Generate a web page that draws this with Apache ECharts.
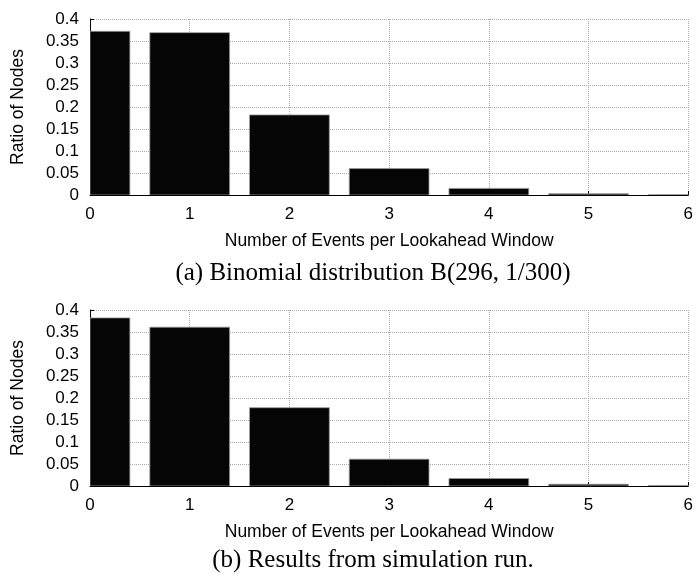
<!DOCTYPE html>
<html><head><meta charset="utf-8">
<script src="https://cdn.jsdelivr.net/npm/echarts@6/dist/echarts.min.js"></script>
<style>html,body{margin:0;padding:0;background:#fff}#c{width:696px;height:579px}</style>
</head><body><div id="c"></div>
<script>
const events = [0, 1, 2, 3, 4, 5, 6];
const binomialRatio = [0.372, 0.369, 0.182, 0.060, 0.015, 0.003, 0.0005];
const simulationRatio = [0.382, 0.361, 0.178, 0.061, 0.017, 0.004, 0.001];
const captions = ['(a) Binomial distribution B(296, 1/300)', '(b) Results from simulation run.'];
const xName = 'Number of Events per Lookahead Window';
const yName = 'Ratio of Nodes';

const font = 'Liberation Sans, Arial, sans-serif';
const serif = 'Liberation Serif, serif';
const halfBar = 0.4;
const chart = echarts.init(document.getElementById('c'));
const grids = [
  {left: 90, right: 4, top: 19, height: 176},
  {left: 90, right: 4, top: 310, height: 176}
];
function xAxis(i) {
  return {
    gridIndex: i, type: 'value', min: 0, max: 6, interval: 1,
    name: xName, nameLocation: 'middle', nameGap: 37,
    nameTextStyle: {fontFamily: font, fontSize: 17.5, color: '#000'},
    axisLine: {lineStyle: {color: '#000', width: 1}},
    axisTick: {inside: true, length: 4, lineStyle: {color: '#000'}},
    axisLabel: {fontFamily: font, fontSize: 17, color: '#000', margin: 11},
    splitLine: {show: true, lineStyle: {color: '#aaa', type: [1, 1], width: 1}}
  };
}
function yAxis(i) {
  return {
    gridIndex: i, type: 'value', min: 0, max: 0.4, interval: 0.05,
    name: yName, nameLocation: 'middle', nameGap: 63,
    nameTextStyle: {fontFamily: font, fontSize: 17.5, color: '#000'},
    axisLine: {show: true, lineStyle: {color: '#000', width: 1}},
    axisTick: {show: true, inside: true, length: 4, lineStyle: {color: '#000'}},
    axisLabel: {fontFamily: font, fontSize: 17, color: '#000', margin: 11, hideOverlap: false},
    splitLine: {show: true, lineStyle: {color: '#aaa', type: [1, 1], width: 1}}
  };
}
function series(i, vals) {
  return {
    type: 'custom', xAxisIndex: i, yAxisIndex: i, clip: true, z: 3,
    data: events.map((e, k) => [e, vals[k]]),
    renderItem: function (params, api) {
      const x = api.value(0), y = api.value(1);
      const p0 = api.coord([x - halfBar, 0]);
      const p1 = api.coord([x + halfBar, y]);
      const cs = params.coordSys;
      const shape = echarts.graphic.clipRectByRect(
        {x: p0[0], y: p1[1], width: p1[0] - p0[0], height: p0[1] - p1[1]},
        {x: cs.x, y: cs.y, width: cs.width, height: cs.height});
      if (!shape) return null;
      return {type: 'rect', shape: shape,
        style: {fill: '#050505', stroke: '#999', lineWidth: 0.8}};
    }
  };
}
function caption(text, cy) {
  return {type: 'text', x: 373, y: cy, z: 10,
    style: {text: text, fill: '#000', fontFamily: serif, fontSize: 25,
      align: 'center', verticalAlign: 'middle', textAlign: 'center', textVerticalAlign: 'middle'}};
}
chart.setOption({
  animation: false,
  graphic: [caption(captions[0], 273), caption(captions[1], 560)],
  grid: grids,
  xAxis: [xAxis(0), xAxis(1)],
  yAxis: [yAxis(0), yAxis(1)],
  series: [series(0, binomialRatio), series(1, simulationRatio)]
});
</script></body></html>
